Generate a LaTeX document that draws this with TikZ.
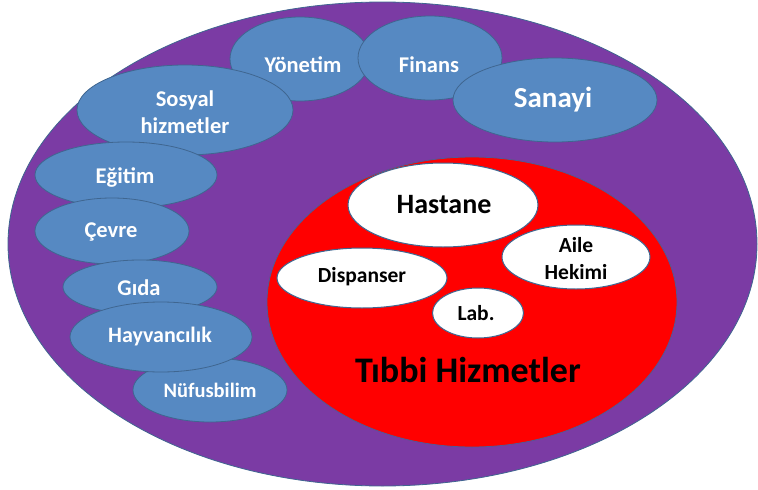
\documentclass[tikz,border=0pt]{standalone}
\usepackage{fontspec}
\setmainfont{Carlito}
\usetikzlibrary{shapes.geometric}
\definecolor{purplefill}{HTML}{7B3BA4}
\definecolor{bluefill}{HTML}{5689C2}
\definecolor{blueline}{HTML}{3F6690}
\definecolor{redfill}{HTML}{FF0000}
\tikzset{
  outerring/.style={ellipse, inner sep=0pt, fill=purplefill, draw=blueline, line width=0.8pt},
  medring/.style={ellipse, inner sep=0pt, fill=redfill, draw=blueline!70!purplefill, line width=0.8pt},
  blueblob/.style={ellipse, inner sep=0pt, fill=bluefill, draw=blueline, line width=0.8pt},
  whiteblob/.style={ellipse, inner sep=0pt, fill=white, draw=blueline, line width=1pt},
  bluetext/.style={text=white, font=\bfseries\fontsize{22.5}{27}\selectfont, align=center, inner sep=0pt},
  blacktext/.style={text=black, font=\bfseries\fontsize{21.5}{27}\selectfont, align=center, inner sep=0pt}
}
\begin{document}
\begin{tikzpicture}[x=1pt,y=-1pt]
\useasboundingbox (0,0) rectangle (758,490);
\node[outerring, minimum width=749pt, minimum height=484pt] (outer) at (382.5,244) {};
\node[medring, minimum width=410pt, minimum height=290pt] (tibbi) at (472,302) {};
% blue ellipses
\node[blueblob, minimum width=140pt, minimum height=84pt] (yonetim) at (300,59) {};
\node[blueblob, minimum width=144pt, minimum height=84pt] (finans) at (430,58) {};
\node[blueblob, minimum width=204pt, minimum height=84pt] (sanayi) at (555,100) {};
\node[blueblob, minimum width=216pt, minimum height=90pt] (sosyal) at (185,110) {};
\node[blueblob, minimum width=182pt, minimum height=66pt] (egitim) at (126,175) {};
\node[blueblob, minimum width=154pt, minimum height=66pt] (cevre) at (112,231) {};
\node[blueblob, minimum width=154pt, minimum height=54pt] (gida) at (140,287) {};
\node[blueblob, minimum width=154pt, minimum height=64pt] (nufus) at (210,390) {};
\node[blueblob, minimum width=182pt, minimum height=70pt] (hayvan) at (161,337) {};
% white ellipses
\node[whiteblob, minimum width=190pt, minimum height=84pt] (hastane) at (443,205) {};
\node[whiteblob, minimum width=170pt, minimum height=60pt] (dispanser) at (362,278) {};
\node[whiteblob, minimum width=148pt, minimum height=64pt] (aile) at (576,257) {};
\node[whiteblob, minimum width=91pt, minimum height=50pt] (lab) at (478,313) {};
% texts
\node[bluetext] (yonetim-t) at (303,65) {Yönetim};
\node[bluetext] (finans-t) at (429,65) {Finans};
\node[bluetext, font=\bfseries\fontsize{29}{32}\selectfont] (sanayi-t) at (553,100) {Sanayi};
\node[bluetext] (sosyal-t) at (185,112) {Sosyal\\hizmetler};
\node[bluetext] (egitim-t) at (125,177) {Eğitim};
\node[bluetext] (cevre-t) at (111,232) {Çevre};
\node[bluetext] (gida-t) at (139,288) {Gıda};
\node[bluetext, font=\bfseries\fontsize{22}{27}\selectfont] (hayvan-t) at (160,337) {Hayvancılık};
\node[bluetext, font=\bfseries\fontsize{20.5}{24}\selectfont] (nufus-t) at (210,390) {Nüfusbilim};
\node[blacktext, font=\bfseries\fontsize{28}{30}\selectfont] (hastane-t) at (444,205) {Hastane};
\node[blacktext] (dispanser-t) at (362,277) {Dispanser};
\node[blacktext] (aile-t) at (576,259) {Aile\\Hekimi};
\node[blacktext] (lab-t) at (476,313) {Lab.};
\node[blacktext, font=\bfseries\fontsize{36}{40}\selectfont] (tibbi-t) at (468,370) {Tıbbi Hizmetler};
\end{tikzpicture}
\end{document}
